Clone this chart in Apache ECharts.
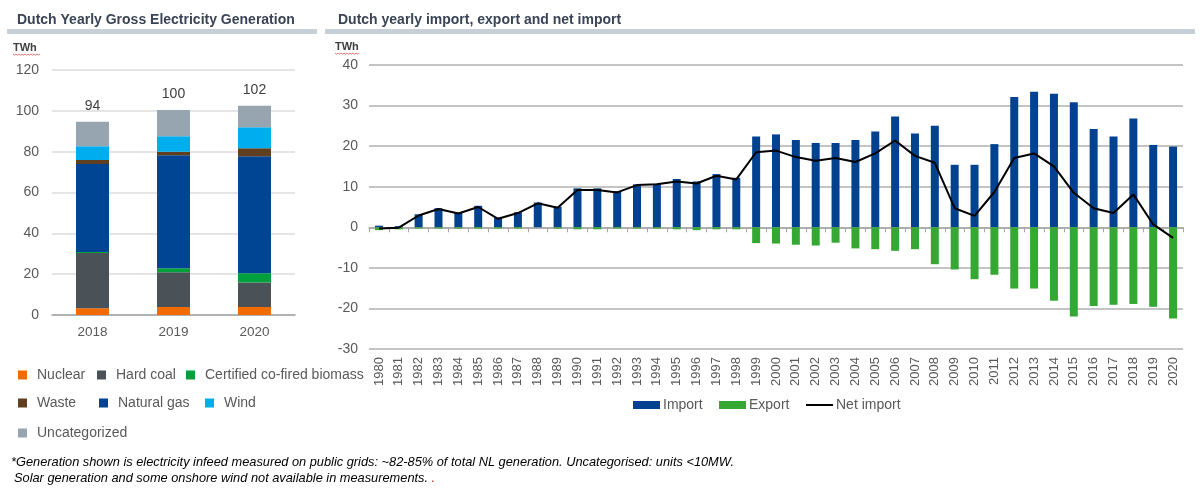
<!DOCTYPE html>
<html><head><meta charset="utf-8">
<script src="https://cdn.jsdelivr.net/npm/echarts@6/dist/echarts.min.js"></script>
<style>html,body{margin:0;padding:0;background:#fff}#c{width:1200px;height:496px}</style>
</head><body><div id="c"></div><script>
// ---- Left chart data (TWh) ----
const genYears = ['2018', '2019', '2020'];
const nuclear = [3.3, 3.9, 3.9];
const hardCoal = [27.1, 17.0, 12.0];
const biomass = [0.5, 2.0, 4.5];
const naturalGas = [43.0, 55.4, 57.4];
const waste = [2.0, 1.6, 3.9];
const wind = [6.8, 7.6, 10.3];
const uncategorized = [12.0, 12.9, 10.5];
const genTotals = [94, 100, 102];

// ---- Right chart data (TWh) ----
const tradeYears = ['1980','1981','1982','1983','1984','1985','1986','1987','1988','1989','1990','1991','1992','1993','1994','1995','1996','1997','1998','1999','2000','2001','2002','2003','2004','2005','2006','2007','2008','2009','2010','2011','2012','2013','2014','2015','2016','2017','2018','2019','2020'];
const imports = [0.4,0.3,3.2,4.7,3.6,5.3,2.4,3.7,6.1,5.1,9.6,9.6,8.9,10.6,10.7,11.9,11.3,13.1,12.2,22.4,22.9,21.5,20.8,20.8,21.5,23.6,27.3,23.1,25.0,15.4,15.4,20.5,32.1,33.4,32.9,30.8,24.2,22.4,26.8,20.3,19.9];
const exportsTWh = [-0.7,-0.5,-0.3,-0.3,-0.3,-0.3,-0.3,-0.3,0,-0.3,-0.5,-0.5,-0.3,-0.3,-0.3,-0.5,-0.7,-0.5,-0.5,-3.9,-4.0,-4.3,-4.5,-3.8,-5.2,-5.4,-5.8,-5.4,-9.1,-10.4,-12.8,-11.7,-15.1,-15.1,-18.1,-22.0,-19.4,-19.1,-18.9,-19.6,-22.5];
const netImport = [-0.3,-0.1,2.9,4.5,3.4,5.0,2.1,3.5,5.9,4.8,9.2,9.2,8.6,10.4,10.6,11.3,10.8,12.7,11.8,18.5,18.9,17.3,16.4,17.1,16.1,18.2,21.4,17.6,15.9,4.7,2.8,8.7,17.1,18.2,15.0,8.5,4.7,3.5,8.1,0.7,-2.6];

const FONT = 'Liberation Sans, Arial, sans-serif';
const NARROW = 'Liberation Sans Narrow, Arial Narrow, Liberation Sans, sans-serif';
const GREY_TXT = '#595959';

function squiggle(x0, y0, w) {
  const pts = [];
  for (let i = 0; i <= w; i += 1.5) pts.push([x0 + i, y0 + ((i / 1.5) % 2 ? 1.2 : 0)]);
  return { type: 'polyline', shape: { points: pts }, style: { stroke: '#e05050', lineWidth: 0.8, fill: null }, silent: true };
}

function genSeries(name, data, color, extra) {
  return Object.assign({
    name, type: 'bar', stack: 'gen', data, xAxisIndex: 0, yAxisIndex: 0,
    barWidth: 33, itemStyle: { color }, emphasis: { disabled: true }
  }, extra || {});
}

function legendItem(name, left, top, opts) {
  return Object.assign({
    data: [name], left, top, padding: 0, icon: 'rect', itemWidth: 9, itemHeight: 9,
    selectedMode: false,
    textStyle: { fontFamily: FONT, fontSize: 14, color: GREY_TXT, padding: [0, 0, 0, 5] }
  }, opts || {});
}

const chart = echarts.init(document.getElementById('c'), null, { renderer: 'canvas' });
chart.setOption({
  animation: false,
  backgroundColor: '#fff',
  title: [
    { text: 'Dutch Yearly Gross Electricity Generation', left: 12, top: 8,
      textStyle: { fontFamily: FONT, fontSize: 14, fontWeight: 'bold', color: '#3a4456' } },
    { text: 'Dutch yearly import, export and net import', left: 333, top: 8,
      textStyle: { fontFamily: NARROW, fontSize: 14, fontWeight: 'bold', color: '#3a4456' } }
  ],
  graphic: [
    { type: 'rect', shape: { x: 7, y: 29, width: 310, height: 5 }, style: { fill: '#c8d0d7' }, silent: true },
    { type: 'rect', shape: { x: 325, y: 29, width: 870, height: 5 }, style: { fill: '#c8d0d7' }, silent: true },
    { type: 'text', left: 13, top: 42, style: { text: 'TWh', fontFamily: FONT, fontSize: 11, fontWeight: 'bold', fill: '#404040' }, silent: true },
    squiggle(13, 54, 27),
    { type: 'text', left: 335, top: 41, style: { text: 'TWh', fontFamily: FONT, fontSize: 11, fontWeight: 'bold', fill: '#404040' }, silent: true },
    squiggle(335, 53, 24),
    { type: 'text', left: 11, top: 456, style: { text: '*Generation shown is electricity infeed measured on public grids: ~82-85% of total NL generation. Uncategorised: units <10MW.', fontFamily: FONT, fontSize: 12.8, fontStyle: 'italic', fill: '#000' }, silent: true },
    { type: 'text', left: 14, top: 472, style: { text: 'Solar generation and some onshore wind not available in measurements. {r|.}', fontFamily: FONT, fontSize: 12.8, fontStyle: 'italic', fill: '#000',
      rich: { r: { fontFamily: FONT, fontSize: 12.8, fontStyle: 'italic', fill: '#e02020' } } }, silent: true }
  ],
  legend: [
    legendItem('Nuclear', 18, 368),
    legendItem('Hard coal', 97, 368),
    legendItem('Certified co-fired biomass', 186, 368),
    legendItem('Waste', 18, 396),
    legendItem('Natural gas', 99, 396),
    legendItem('Wind', 205, 396),
    legendItem('Uncategorized', 18, 426),
    legendItem('Import', 633, 398, { itemWidth: 27, itemHeight: 8, textStyle: { fontFamily: NARROW, fontSize: 14, color: GREY_TXT, padding: [0, 0, 0, -2] } }),
    legendItem('Export', 719, 398, { itemWidth: 27, itemHeight: 8, textStyle: { fontFamily: NARROW, fontSize: 14, color: GREY_TXT, padding: [0, 0, 0, -2] } }),
    legendItem('Net import', 806, 398, { icon: 'path://M0,4 L27,4 L27,6 L0,6 Z', itemWidth: 27, itemHeight: 8, textStyle: { fontFamily: NARROW, fontSize: 14, color: GREY_TXT, padding: [0, 0, 0, -2] } })
  ],
  grid: [
    { left: 52, right: 905, top: 70, bottom: 181 },
    { left: 369, right: 17, top: 65, bottom: 147 }
  ],
  xAxis: [
    { type: 'category', gridIndex: 0, data: genYears,
      axisLine: { lineStyle: { color: '#a0a0a0', width: 1.5 } }, axisTick: { show: false },
      axisLabel: { fontFamily: FONT, fontSize: 13.5, color: GREY_TXT, margin: 10 } },
    { type: 'category', gridIndex: 1, data: tradeYears, position: 'bottom',
      axisLine: { show: false, onZero: false }, axisTick: { show: false },
      axisLabel: { interval: 0, rotate: 90, fontFamily: FONT, fontSize: 13, color: GREY_TXT, margin: 8 } },
    { type: 'category', gridIndex: 1, data: tradeYears, position: 'bottom',
      axisLine: { show: true, onZero: true, lineStyle: { color: '#a6a6a6', width: 1.5 } },
      axisTick: { show: true, interval: 0, length: 5, lineStyle: { color: '#a6a6a6' } },
      axisLabel: { show: false } }
  ],
  yAxis: [
    { type: 'value', gridIndex: 0, min: 0, max: 120, interval: 20,
      axisLine: { show: false }, axisTick: { show: false },
      splitLine: { lineStyle: { color: '#dcdcdc', width: 1.5 } },
      axisLabel: { fontFamily: FONT, fontSize: 14, color: GREY_TXT, margin: 13 } },
    { type: 'value', gridIndex: 1, min: -30, max: 40, interval: 10,
      axisLine: { show: false }, axisTick: { show: false },
      splitLine: { lineStyle: { color: '#b0b0b0', width: 1.5 } },
      axisLabel: { fontFamily: FONT, fontSize: 14, color: GREY_TXT, margin: 11 } }
  ],
  series: [
    genSeries('Nuclear', nuclear, '#f26b00'),
    genSeries('Hard coal', hardCoal, '#4a5157'),
    genSeries('Certified co-fired biomass', biomass, '#00a03c'),
    genSeries('Natural gas', naturalGas, '#004494'),
    genSeries('Waste', waste, '#5f3f1f'),
    genSeries('Wind', wind, '#00aeef'),
    genSeries('Uncategorized', uncategorized, '#97a5b0', {
      label: { show: true, position: 'top', distance: 9, fontFamily: FONT, fontSize: 14, color: '#404040',
        formatter: p => String(genTotals[p.dataIndex]) } }),
    { name: 'Import', type: 'bar', stack: 'trade', xAxisIndex: 1, yAxisIndex: 1, data: imports,
      barWidth: 8, itemStyle: { color: '#00428f' }, emphasis: { disabled: true } },
    { name: 'Export', type: 'bar', stack: 'trade', xAxisIndex: 1, yAxisIndex: 1, data: exportsTWh,
      barWidth: 8, itemStyle: { color: '#34a833' }, emphasis: { disabled: true } },
    { name: 'Net import', type: 'line', xAxisIndex: 1, yAxisIndex: 1, data: netImport,
      showSymbol: false, symbol: 'none', lineStyle: { color: '#000', width: 2 }, itemStyle: { color: '#000' },
      emphasis: { disabled: true }, z: 5 }
  ]
});
</script></body></html>
